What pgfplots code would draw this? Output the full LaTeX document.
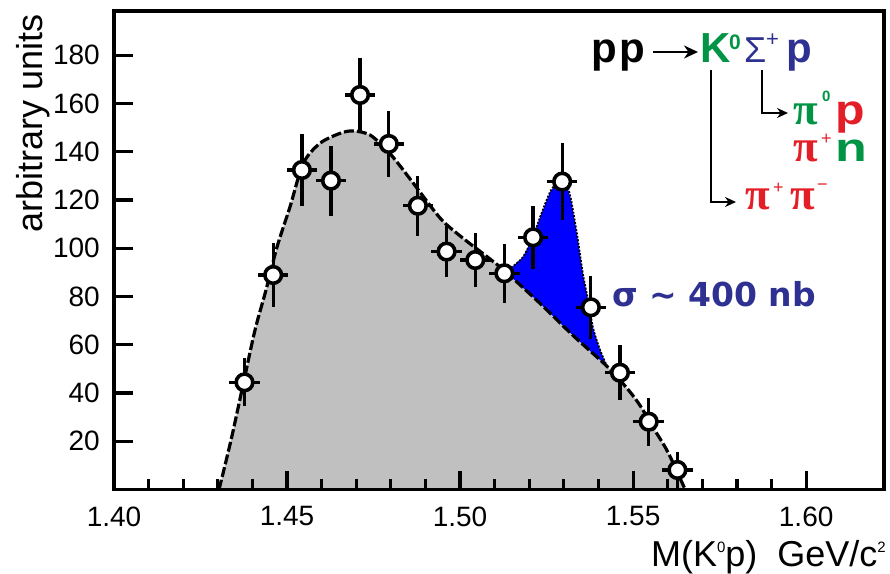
\documentclass[border=0pt]{standalone}
\usepackage{graphicx}
\usepackage{pgfplots}
\pgfplotsset{compat=1.18}
\usepackage{pgfplotstable}
\usetikzlibrary{arrows.meta}
\usepackage{fontspec}
\setmainfont{Liberation Sans}
\newfontfamily\serifpi{Liberation Serif}
\newfontfamily\djv{DejaVu Sans}
\definecolor{kgreen}{RGB}{0,148,68}
\definecolor{sblue}{RGB}{46,49,146}
\definecolor{pred}{RGB}{228,30,38}
\definecolor{bggray}{RGB}{192,192,192}
\newcommand{\fs}[1]{\fontsize{#1}{#1}\selectfont}

\pgfplotstableread{
x y ey
1.4377 44.4 10.0
1.4460 88.9 13.3
1.4543 132.4 14.9
1.4627 128.0 14.5
1.4711 163.5 15.5
1.4794 143.2 13.7
1.4878 117.6 12.4
1.4961 98.6 10.7
1.5044 95.1 11.2
1.5128 89.6 12.2
1.5211 104.5 13.1
1.5295 127.6 15.8
1.5378 75.5 13.1
1.5462 48.4 11.4
1.5545 28.1 9.9
1.5628 8.1 7.3
}\datatable

\pgfplotstableread{
x y
1.43035 0
1.43382 20.5
1.43728 43.3
1.44075 66.1
1.44393 82.7
1.44711 100.5
1.45087 117.2
1.45471 135.2
1.45954 143.5
1.46532 147.6
1.46916 148.6
1.47399 146.9
1.47882 140.7
1.48266 134.1
1.48650 126.9
1.49422 112.5
1.50000 105.1
1.50867 95.5
1.51301 90.4
1.52312 77.1
1.53266 63.8
1.54249 51.0
1.54827 41.9
1.55202 34.8
1.55578 25.7
1.56012 15.3
1.56503 0
}\bgtable

\pgfplotstableread{
x y
1.51301 90.4
1.51503 92.2
1.51821 96.4
1.52110 104.7
1.52312 112.9
1.52601 123.3
1.52803 127.0
1.52948 127.5
1.53092 125.8
1.53208 120.0
1.53382 105.5
1.53555 88.9
1.53699 78.5
1.53844 66.9
1.54046 57.8
1.54249 51.0
}\sigtable

\pgfplotstableread{
x y
1.51301 90.4
1.51503 92.2
1.51821 96.4
1.52110 104.7
1.52312 112.9
1.52601 123.3
1.52803 127.0
1.52948 127.5
1.53092 125.8
1.53208 120.0
1.53382 105.5
1.53555 88.9
1.53699 78.5
1.53844 66.9
1.54046 57.8
1.54249 51.0
1.53266 63.8
1.52312 77.1
1.51301 90.4
}\blueregion

\begin{document}
\begin{tikzpicture}
\useasboundingbox (0,0) rectangle (890pt,573pt);
\begin{axis}[
  at={(114pt,83.5pt)}, anchor=south west,
  scale only axis, width=770pt, height=478.5pt,
  xmin=1.40, xmax=1.6225, ymin=0, ymax=198.3,
  axis on top,
  axis line style={line width=3.4pt},
  tick style={line width=3.2pt, black},
  tick align=inside, tick pos=left,
  major tick length=18.5pt, minor tick length=11pt,
  xtick={1.40,1.45,1.50,1.55,1.60},
  minor x tick num=4,
  ytick={20,40,...,180},
  /pgf/number format/assume math mode=true,
  xticklabel={\fs{28}\pgfmathprintnumber[fixed,fixed zerofill,precision=2]{\tick}},
  yticklabel={\fs{28}\pgfmathprintnumber{\tick}},
  xticklabel style={inner sep=0pt, yshift=-17pt},
  yticklabel style={inner sep=0pt, xshift=-14pt},
]
\addplot[draw=none, fill=bggray, smooth] table[x=x,y=y] {\bgtable} \closedcycle;
\addplot[draw=none, fill=blue] table[x=x,y=y] {\blueregion} -- cycle;
\addplot[black, line width=3.2pt, dash pattern=on 10pt off 3pt, smooth] table[x=x,y=y] {\bgtable};
\addplot[black, line width=1.8pt, dash pattern=on 2pt off 1.5pt, smooth] table[x=x,y=y] {\sigtable};
\addplot[draw=none, mark=none, error bars/.cd, x dir=both, x fixed=0.0044, y dir=both, y explicit, error mark=none, error bar style={line width=3.2pt, draw=black, solid}] table[x=x, y=y, y error=ey] {\datatable};
\addplot[only marks, mark=*, mark size=8.3pt, mark options={fill=white, draw=black, line width=3.6pt, solid}] table[x=x,y=y] {\datatable};
\end{axis}
\begin{scope}[x=1pt,y=-1pt,yshift=573pt]
  \node[rotate=90,anchor=base,inner sep=0pt] at (42,123) {\fs{36}arbitrary units};
  \node[anchor=base east,inner sep=0pt] at (886,566) {\fs{36}M(K\raisebox{14pt}{\fs{15}0}p)\ \ GeV/c\raisebox{14pt}{\fs{15}2}};
  % reaction
  \node[anchor=base west,inner sep=0pt] at (591,63) {\fs{42}\bfseries p\kern3pt p};
  \draw[line width=2.8pt,-{Stealth[length=14pt,width=13pt]}] (653,52) -- (698,52);
  \node[anchor=base west,inner sep=0pt,text=kgreen] at (700,63) {\fs{42}\bfseries K};
  \node[anchor=base west,inner sep=0pt,text=kgreen] at (729,50) {\fs{21}\bfseries 0};
  \node[anchor=base west,inner sep=0pt,text=sblue] at (744,63) {\fs{36}Σ};
  \node[anchor=base west,inner sep=0pt,text=sblue] at (766,47) {\fs{22}+};
  \node[anchor=base west,inner sep=0pt,text=sblue] at (786,63) {\fs{42}\bfseries p};
  % decay lines
  \draw[line width=2.4pt,-{Stealth[length=11pt,width=10pt]}] (711,70) -- (711,202) -- (736,202);
  \draw[line width=2.4pt,-{Stealth[length=11pt,width=10pt]}] (762,70) -- (762,113) -- (788,113);
  % products
  \node[anchor=base west,inner sep=0pt,text=kgreen] at (793,125) {\fs{45}\serifpi\bfseries π};
  \node[anchor=base west,inner sep=0pt,text=kgreen] at (822,102) {\fs{15}\bfseries 0};
  \node[anchor=base west,inner sep=0pt,text=pred] at (835,125) {\scalebox{1.15}[1]{\fs{42}\bfseries p}};
  \node[anchor=base west,inner sep=0pt,text=pred] at (793,162) {\fs{45}\serifpi\bfseries π};
  \node[anchor=base west,inner sep=0pt,text=pred] at (821,145) {\fs{18}+};
  \node[anchor=base west,inner sep=0pt,text=kgreen] at (835,162) {\scalebox{1.3}[1]{\fs{40}\bfseries n}};
  \node[anchor=base west,inner sep=0pt,text=pred] at (745,210) {\fs{45}\serifpi\bfseries π};
  \node[anchor=base west,inner sep=0pt,text=pred] at (773,194) {\fs{18}+};
  \node[anchor=base west,inner sep=0pt,text=pred] at (790,210) {\fs{45}\serifpi\bfseries π};
  \node[anchor=base west,inner sep=0pt,text=pred] at (817,191) {\fs{18}−};
  % cross section
  \node[anchor=base west,inner sep=0pt,text=sblue] at (612,307) {\fs{33}\djv\bfseries σ \textasciitilde\ 400 nb};
\end{scope}
\end{tikzpicture}
\end{document}
